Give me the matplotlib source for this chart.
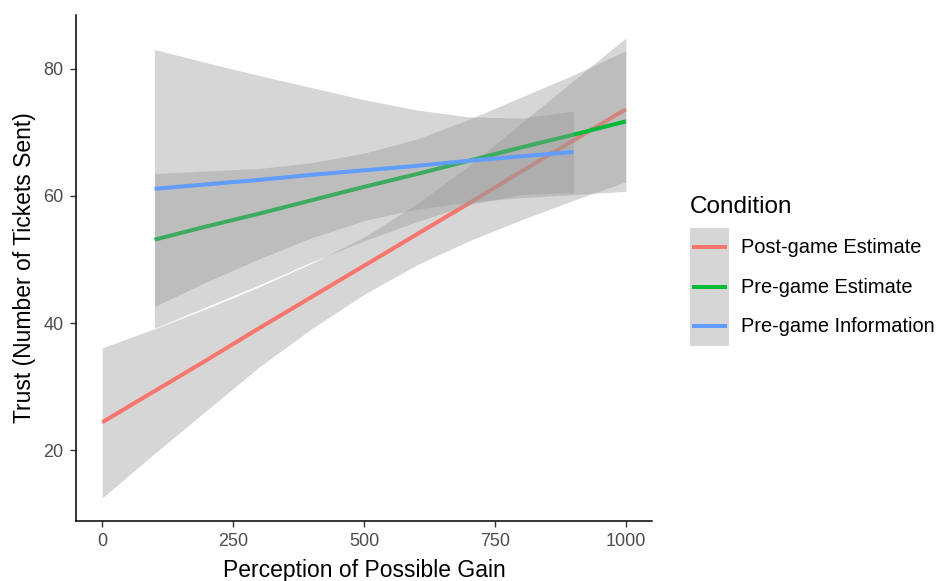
import matplotlib
matplotlib.use('Agg')
import matplotlib.pyplot as plt
from matplotlib.patches import Patch
from matplotlib.lines import Line2D
from matplotlib.legend_handler import HandlerTuple, HandlerLine2D

plt.rcParams['font.family'] = ['Liberation Sans', 'DejaVu Sans']

# ---------------- data ----------------
conditions = ['Post-game Estimate', 'Pre-game Estimate', 'Pre-game Information']
colors = ['#F8766D', '#00BA38', '#619CFF']

post_x = [0, 100, 200, 300, 400, 500, 600, 700, 800, 900, 1000]
post_fit = [24.4, 29.3, 34.2, 39.2, 44.1, 49.0, 53.9, 58.8, 63.8, 68.7, 73.6]
post_upper = [36.1, 39.1, 42.3, 45.7, 49.4, 53.5, 58.7, 64.7, 71.4, 78.1, 84.8]
post_lower = [12.5, 19.5, 26.3, 33.1, 39.1, 44.5, 49.1, 52.9, 56.2, 59.3, 62.2]

pre_est_x = [100, 200, 300, 400, 500, 600, 700, 800, 900, 1000]
pre_est_fit = [53.1, 55.2, 57.2, 59.3, 61.4, 63.4, 65.5, 67.6, 69.6, 71.7]
pre_est_upper = [63.5, 63.9, 64.3, 65.2, 66.7, 68.9, 72.0, 75.5, 79.0, 82.8]
pre_est_lower = [42.6, 46.5, 50.1, 53.4, 56.1, 57.9, 59.0, 59.7, 60.2, 60.7]

pre_info_x = [100, 200, 300, 400, 500, 600, 700, 800, 900]
pre_info_fit = [61.1, 61.8, 62.5, 63.3, 64.0, 64.7, 65.5, 66.2, 66.9]
pre_info_upper = [83.0, 80.9, 78.9, 77.0, 75.1, 73.5, 72.4, 72.2, 73.3]
pre_info_lower = [39.2, 42.6, 46.0, 49.6, 52.9, 55.9, 58.6, 60.2, 60.5]

x_ticks = [0, 250, 500, 750, 1000]
y_ticks = [20, 40, 60, 80]
x_title = 'Perception of Possible Gain'
y_title = 'Trust (Number of Tickets Sent)'
legend_title = 'Condition'

series = [
    (post_x, post_fit, post_upper, post_lower),
    (pre_est_x, pre_est_fit, pre_est_upper, pre_est_lower),
    (pre_info_x, pre_info_fit, pre_info_upper, pre_info_lower),
]


class CenteredLine(HandlerLine2D):
    def create_artists(self, legend, orig_handle, xdescent, ydescent,
                       width, height, fontsize, trans):
        return super().create_artists(legend, orig_handle, xdescent, ydescent,
                                      width, height - ydescent, fontsize, trans)


# ---------------- figure ----------------
fig = plt.figure(figsize=(9.36, 5.81), dpi=100)
ax = fig.add_axes([76 / 936, 1 - 521 / 581, (652 - 76) / 936, (521 - 15) / 581])

band_color = '#999999'
z = 2
for (xs, fit, up, lo), col in zip(series, colors):
    ax.fill_between(xs, lo, up, color=band_color, alpha=0.4, linewidth=0, zorder=z)
    ax.plot(xs, fit, color=col, linewidth=2.9, solid_capstyle='butt', zorder=z + 1)
    z += 2

all_low = min(min(s[3]) for s in series)
all_up = max(max(s[2]) for s in series)
rng = all_up - all_low
ax.set_ylim(all_low - 0.05 * rng, all_up + 0.05 * rng)
ax.set_xlim(-50, 1050)

ax.set_xticks(x_ticks)
ax.set_yticks(y_ticks)
ax.set_xticklabels([str(t) for t in x_ticks])
ax.set_yticklabels([str(t) for t in y_ticks])

for side in ['top', 'right']:
    ax.spines[side].set_visible(False)
for side in ['left', 'bottom']:
    ax.spines[side].set_linewidth(1.1)
    ax.spines[side].set_color('black')

ax.tick_params(axis='both', direction='out', length=4, width=1.0, color='#333333',
               labelcolor='#4D4D4D', labelsize=13)
ax.tick_params(axis='x', pad=5)
ax.tick_params(axis='y', pad=5)

ax.set_xlabel(x_title, fontsize=16.5, color='black', labelpad=6)
ax.set_ylabel(y_title, fontsize=16.5, color='black', labelpad=5)

# legend
handles = []
for col in colors:
    handles.append((Patch(facecolor=band_color, alpha=0.4, edgecolor='none'),
                    Line2D([], [], color=col, linewidth=2.9)))
leg = ax.legend(handles, conditions,
                handler_map={tuple: HandlerTuple(ndivide=1, pad=0),
                             Line2D: CenteredLine(marker_pad=0.2, numpoints=2)},
                title=legend_title, title_fontsize=17.5, fontsize=14.4,
                frameon=False, loc='upper left',
                bbox_to_anchor=(690 / 936, 1 - 196 / 581), bbox_transform=fig.transFigure,
                borderpad=0, borderaxespad=0, labelspacing=0,
                handlelength=1.95, handleheight=2.65, handletextpad=0.6,
                alignment='left')
leg._legend_box.sep = 7

fig.savefig('out.png', dpi=100)
